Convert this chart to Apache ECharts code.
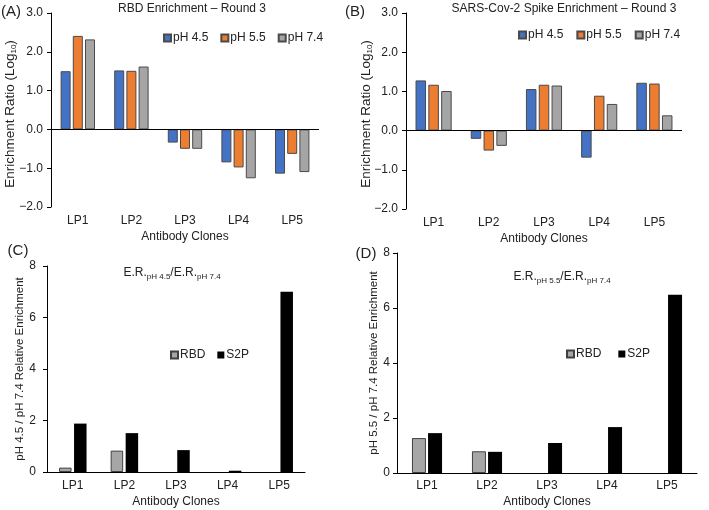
<!DOCTYPE html>
<html>
<head>
<meta charset="utf-8">
<script src="https://cdn.jsdelivr.net/npm/echarts@6/dist/echarts.min.js"></script>
<style>
html,body{margin:0;padding:0;background:#fff;}
#chartmain{width:709px;height:510px;}
</style>
</head>
<body>
<div id="chartmain"></div>
<script>
// categories
var clones = ['LP1', 'LP2', 'LP3', 'LP4', 'LP5'];
var phNames = ['pH 4.5', 'pH 5.5', 'pH 7.4'];
var ratioNames = ['RBD', 'S2P'];

// (A) RBD enrichment, round 3 (log10)
var rbd45 = [1.50, 1.52, -0.34, -0.85, -1.14];
var rbd55 = [2.41, 1.51, -0.50, -0.98, -0.63];
var rbd74 = [2.32, 1.62, -0.50, -1.26, -1.10];
// (B) spike enrichment, round 3 (log10)
var spk45 = [1.28, -0.21, 1.06, -0.69, 1.22];
var spk55 = [1.17, -0.51, 1.17, 0.89, 1.20];
var spk74 = [1.01, -0.39, 1.15, 0.68, 0.39];
// (C) pH 4.5 / pH 7.4
var c_rbd = [0.17, 0.83, null, null, null];
var c_s2p = [1.88, 1.51, 0.85, 0.05, 7.00];
// (D) pH 5.5 / pH 7.4
var d_rbd = [1.27, 0.79, null, null, null];
var d_s2p = [1.45, 0.77, 1.09, 1.67, 6.48];

// tick labels
var ticksAB = [-2, -1, 0, 1, 2, 3];
var ticksCD = [0, 2, 4, 6, 8];

var FONT = '"Liberation Sans", Arial, Helvetica, sans-serif';
var TXT = '#222';
var phColors = ['#4472C4', '#ED7D31', '#A5A5A5'];

function fmtAB(v) {
    return v < 0 ? '\u2212' + Math.abs(v).toFixed(1) : v.toFixed(1);
}

function xAxisOf(idx, margin, gap, lineShow) {
    return {
        type: 'category',
        gridIndex: idx,
        data: clones,
        axisTick: {show: false},
        axisLine: {show: lineShow, onZero: false, lineStyle: {color: '#000', width: 1}},
        axisLabel: {color: TXT, fontSize: 12, fontFamily: FONT, margin: margin},
        name: 'Antibody Clones',
        nameLocation: 'middle',
        nameGap: gap,
        nameTextStyle: {color: TXT, fontSize: 12, fontFamily: FONT}
    };
}

function yAxisOf(idx, ticks, fmt, name, nameGap, margin) {
    return {
        type: 'value',
        gridIndex: idx,
        min: ticks[0],
        max: ticks[ticks.length - 1],
        interval: ticks[1] - ticks[0],
        splitLine: {show: false},
        axisLine: {show: true, lineStyle: {color: '#000', width: 1}},
        axisTick: {show: true, length: 4, lineStyle: {color: '#000'}},
        axisLabel: {color: TXT, fontSize: 12, fontFamily: FONT, margin: margin, formatter: fmt},
        name: name,
        nameLocation: 'middle',
        nameGap: nameGap,
        nameTextStyle: {color: TXT, fontSize: 11.5, fontFamily: FONT}
    };
}

function phSeries(idx, arrs, width, withZero) {
    var out = [];
    for (var i = 0; i < arrs.length; i++) {
        var s = {
            type: 'bar',
            name: phNames[i],
            xAxisIndex: idx,
            yAxisIndex: idx,
            data: arrs[i],
            barWidth: width,
            barGap: '22%',
            itemStyle: {color: phColors[i], borderColor: '#4a4a4a', borderWidth: 1},
            emphasis: {disabled: true}
        };
        if (i == 0 && withZero) {
            // zero line across the plot
            s.markLine = {
                silent: true,
                symbol: 'none',
                label: {show: false},
                lineStyle: {color: '#000', width: 1, type: 'solid'},
                data: [{yAxis: 0}]
            };
        }
        out.push(s);
    }
    return out;
}

function ratioSeries(idx, rbd, s2p, width, gap) {
    return [
        {type: 'bar', name: 'RBD', xAxisIndex: idx, yAxisIndex: idx, data: rbd, barWidth: width, barGap: gap,
            itemStyle: {color: '#A6A6A6', borderColor: '#404040', borderWidth: 1}, emphasis: {disabled: true}},
        {type: 'bar', name: 'S2P', xAxisIndex: idx, yAxisIndex: idx, data: s2p, barWidth: width, barGap: gap,
            itemStyle: {color: '#000'}, emphasis: {disabled: true}}
    ];
}

function legendOf(names, left, top, gap) {
    return {
        data: names,
        left: left,
        top: top,
        orient: 'horizontal',
        icon: 'rect',
        itemWidth: 7,
        itemHeight: 7,
        itemGap: gap,
        selectedMode: false,
        textStyle: {color: TXT, fontSize: 12, fontFamily: FONT, padding: [0, 0, 0, -3]}
    };
}

function label(text, x, y, size, rich, rot) {
    return {
        type: 'text',
        silent: true,
        x: x,
        y: y,
        rotation: rot || 0,
        style: {
            text: text, x: 0, y: 0, align: 'center', verticalAlign: 'middle',
            fontSize: size, fontFamily: FONT, fill: TXT, rich: rich
        }
    };
}

// sub-scripted text pieces
function subStyle(size) {
    return {
        n: {fontSize: size, fontFamily: FONT, fill: TXT, lineHeight: 16},
        s: {fontSize: 8, fontFamily: FONT, fill: TXT, lineHeight: 9, verticalAlign: 'bottom'}
    };
}

var option = {
    animation: false,
    backgroundColor: '#fff',
    grid: [
        {left: 51, top: 13, width: 268, height: 194, outerBoundsMode: 'none'},
        {left: 406, top: 13, width: 276, height: 196, outerBoundsMode: 'none'},
        {left: 47, top: 266, width: 258, height: 206, outerBoundsMode: 'none'},
        {left: 397, top: 253, width: 300, height: 220, outerBoundsMode: 'none'}
    ],
    xAxis: [
        xAxisOf(0, 8, 24, false),
        xAxisOf(1, 8, 24, false),
        xAxisOf(2, 8, 24, true),
        xAxisOf(3, 7, 23, true)
    ],
    yAxis: [
        yAxisOf(0, ticksAB, fmtAB, '', 34, 8),
        yAxisOf(1, ticksAB, fmtAB, '', 33, 8),
        yAxisOf(2, ticksCD, '{value}', 'pH 4.5 / pH 7.4 Relative Enrichment', 15, 11),
        yAxisOf(3, ticksCD, '{value}', 'pH 5.5 / pH 7.4 Relative Enrichment', 11, 7)
    ],
    legend: [
        legendOf(phNames, 158, 27, 12),
        legendOf(phNames, 513, 24, 13),
        legendOf(ratioNames, 165, 344, 12),
        legendOf(ratioNames, 561, 343, 17)
    ],
    series: [].concat(
        phSeries(0, [rbd45, rbd55, rbd74], 10, true),
        phSeries(1, [spk45, spk55, spk74], 10.5, true),
        ratioSeries(2, c_rbd, c_s2p, 12.5, '20%'),
        ratioSeries(3, d_rbd, d_s2p, 14, '15%')
    ),
    graphic: [
        label('RBD Enrichment \u2013 Round 3', 192, 9, 12),
        label('SARS-Cov-2 Spike Enrichment \u2013 Round 3', 564, 9, 12),
        label('{n|E.R.}{s|pH 4.5}{n|/E.R.}{s|pH 7.4}', 172, 273, 12, subStyle(12)),
        label('{n|E.R.}{s|pH 5.5}{n|/E.R.}{s|pH 7.4}', 562, 277, 12, subStyle(12)),
        // y names for (A) and (B), Log10 with subscript
        label('{n|Enrichment Ratio (Log}{s|10}{n|)}', 10, 114, 13.5, subStyle(13.5), Math.PI / 2),
        label('{n|Enrichment Ratio (Log}{s|10}{n|)}', 366, 114, 13.5, subStyle(13.5), Math.PI / 2),
        label('(A)', 11, 12, 15),
        label('(B)', 355, 12, 15),
        label('(C)', 18, 251, 15),
        label('(D)', 366, 254, 15)
    ]
};

var myChart = echarts.init(document.getElementById('chartmain'));
myChart.setOption(option);
</script>
</body>
</html>
